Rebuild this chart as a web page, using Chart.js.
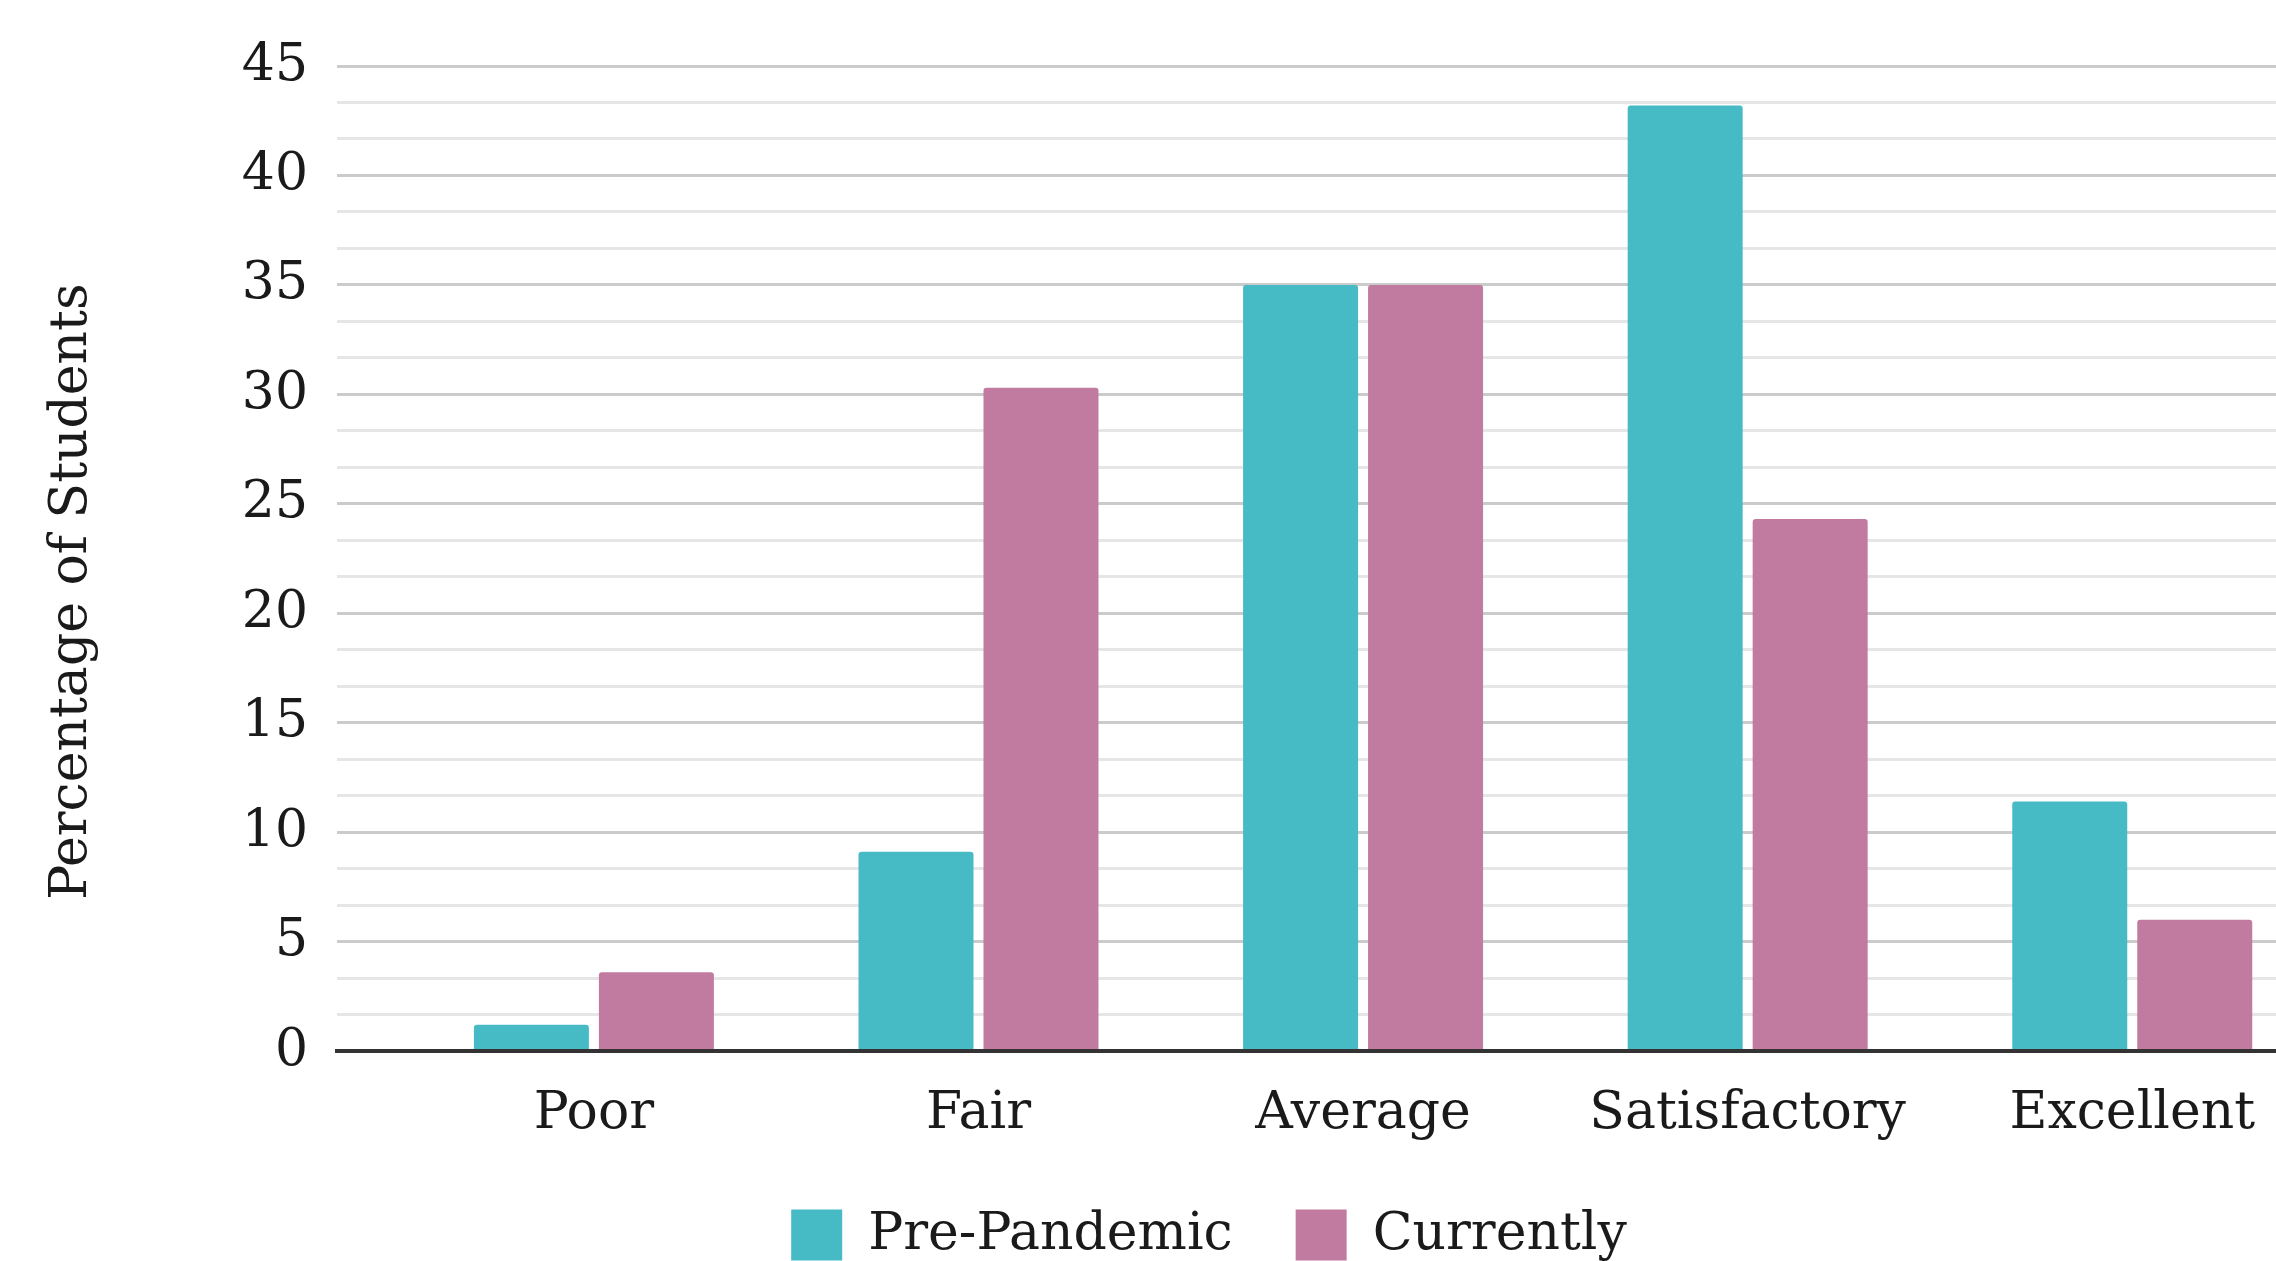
<!DOCTYPE html>
<html>
<head>
<meta charset="utf-8">
<script src="https://cdn.jsdelivr.net/npm/chart.js@4.4.1/dist/chart.umd.min.js"></script>
<style>
  html, body { margin: 0; padding: 0; background: #ffffff; overflow: hidden; }
  #wrap { position: absolute; left: 0; top: 0; width: 2418px; height: 1271px; }
</style>
</head>
<body>
<div id="wrap"><canvas id="chart"></canvas></div>
<script>
// Survey results: share of students per rating, before the pandemic and now
const categories = ['Poor', 'Fair', 'Average', 'Satisfactory', 'Excellent'];
const seriesNames = ['Pre-Pandemic', 'Currently'];
const prePandemic = [1.2, 9.1, 35.0, 43.2, 11.4];
const currently = [3.6, 30.3, 35.0, 24.3, 6.0];
const yTickLabels = [0, 5, 10, 15, 20, 25, 30, 35, 40, 45];
const yTitle = 'Percentage of Students';

const FONT = "'DejaVu Serif', serif";
const FONT_SIZE = 52;
const TEXT = '#1a1a1a';
const TEAL = '#47bbc5';
const PINK = '#c17ba0';

Chart.defaults.font.family = FONT;
Chart.defaults.color = TEXT;

// Rotated y-axis title, centred a little below the plot middle
const yTitlePlugin = {
  id: 'yTitle',
  afterDraw(chart) {
    const { ctx, chartArea } = chart;
    ctx.save();
    ctx.translate(72, (chartArea.top + chartArea.bottom) / 2 + 33);
    ctx.rotate(-Math.PI / 2);
    ctx.font = FONT_SIZE + 'px ' + FONT;
    ctx.fillStyle = TEXT;
    ctx.textAlign = 'center';
    ctx.textBaseline = 'middle';
    ctx.fillText(yTitle, 0, 0);
    ctx.restore();
  }
};

const toPoints = arr => arr.map((v, i) => ({ x: i, y: v }));
const barStyle = {
  borderWidth: 0,
  borderRadius: { topLeft: 3, topRight: 3, bottomLeft: 0, bottomRight: 0 },
  barPercentage: 0.92,
  categoryPercentage: 0.65
};

new Chart(document.getElementById('chart'), {
  type: 'bar',
  data: {
    datasets: [
      Object.assign({ label: seriesNames[0], data: toPoints(prePandemic), backgroundColor: TEAL }, barStyle),
      Object.assign({ label: seriesNames[1], data: toPoints(currently), backgroundColor: PINK }, barStyle)
    ]
  },
  options: {
    responsive: true,
    maintainAspectRatio: false,
    animation: false,
    layout: { padding: { top: 66, left: 0, right: 0, bottom: 0 } },
    plugins: {
      tooltip: { enabled: false },
      legend: {
        position: 'bottom',
        labels: {
          font: { size: FONT_SIZE },
          color: TEXT,
          boxWidth: 51,
          boxHeight: 51,
          padding: 63
        }
      }
    },
    scales: {
      x: {
        type: 'linear',
        offset: false,
        min: -0.668,
        max: 4.743,
        afterBuildTicks: s => { s.ticks = categories.map((_, i) => ({ value: i })); },
        afterFit: s => { s.height = 95; },
        grid: { display: false, drawTicks: false },
        border: { display: true, color: '#333333', width: 4, z: 1 },
        ticks: {
          autoSkip: false,
          maxRotation: 0,
          padding: 30,
          font: { size: FONT_SIZE, lineHeight: 1.27 },
          color: TEXT,
          callback: v => categories[v] ?? ''
        }
      },
      y: {
        min: 0,
        max: 45,
        afterBuildTicks: s => {
          const t = [];
          yTickLabels.forEach((m, i) => {
            t.push({ value: m });
            if (i < yTickLabels.length - 1) {
              const step = (yTickLabels[i + 1] - m) / 3;
              t.push({ value: m + step }, { value: m + 2 * step });
            }
          });
          s.ticks = t;
        },
        afterFit: s => { s.width = 337; },
        grid: {
          drawTicks: false,
          lineWidth: 3,
          color: c => (c.tick && yTickLabels.includes(c.tick.value)) ? '#cbcbcb' : '#e6e6e6'
        },
        border: { display: false },
        ticks: {
          autoSkip: false,
          padding: 29,
          font: { size: FONT_SIZE },
          color: TEXT,
          callback: v => yTickLabels.includes(v) ? String(v) : ''
        }
      }
    }
  },
  plugins: [yTitlePlugin]
});
</script>
</body>
</html>
